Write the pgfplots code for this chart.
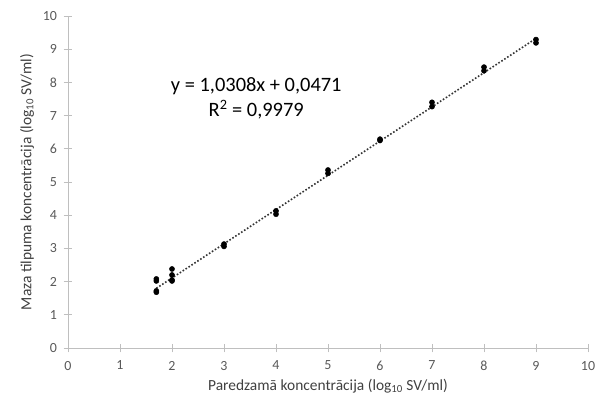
\documentclass[border=0pt]{standalone}
\usepackage{pgfplots}
\pgfplotsset{compat=1.18}
\usepackage{fontspec}
\setmainfont{Carlito}
\definecolor{axisgray}{HTML}{BFBFBF}
\definecolor{ticktext}{HTML}{595959}
\definecolor{titletext}{HTML}{404040}

% Measured vs expected concentration (log10 SV/ml)
\pgfplotstableread{
x      y
1.699  2.08
1.699  2.02
1.699  1.68
1.699  1.72
2      2.38
2      2.20
2      2.05
2      2.02
3      3.06
3      3.13
4      4.03
4      4.13
5      5.26
5      5.36
6      6.25
6      6.29
7      7.27
7      7.40
8      8.35
8      8.46
9      9.19
9      9.29
}\measured

\begin{document}
\begin{tikzpicture}
\begin{axis}[
  scale only axis,
  width=520bp, height=332bp,
  xmin=0, xmax=10, ymin=0, ymax=10,
  xtick={0,...,10}, ytick={0,...,10},
  axis x line=bottom, axis y line=left,
  axis line style={axisgray, line width=0.8bp, -},
  tick align=center,
  major tick length=9bp,
  tick style={axisgray, line width=0.8bp},
  /pgf/number format/assume math mode=true,
  tick label style={font=\fontsize{14}{16}\selectfont, text=ticktext},
  xticklabel style={yshift=-5bp},
  yticklabel style={xshift=-3bp},
  label style={font=\fontsize{15.5}{18}\selectfont, text=titletext},
  xlabel style={yshift=-2bp},
  ylabel style={yshift=2bp},
  xlabel={Paredzamā koncentrācija (log\textsubscript{10} SV/ml)},
  ylabel={Maza tilpuma koncentrācija (log\textsubscript{10} SV/ml)},
  clip=false,
]
\addplot[only marks, mark=*, mark size=2.6bp, black] table[x=x, y=y] {\measured};
% linear trendline y = 1.0308x + 0.0471
\addplot[black!80, line width=1.6bp, dash pattern=on 1.6bp off 1.9bp]
  coordinates {(1.699,1.7985) (9,9.3243)};
\node[font=\fontsize{20.5}{26}\selectfont, align=center] at (axis cs:3.62,7.52)
  {y = 1,0308x + 0,0471\\R\textsuperscript{2} = 0,9979};
\end{axis}
\pgfresetboundingbox
\path (-68bp,-54bp) rectangle (532bp,348bp);
\end{tikzpicture}
\end{document}
